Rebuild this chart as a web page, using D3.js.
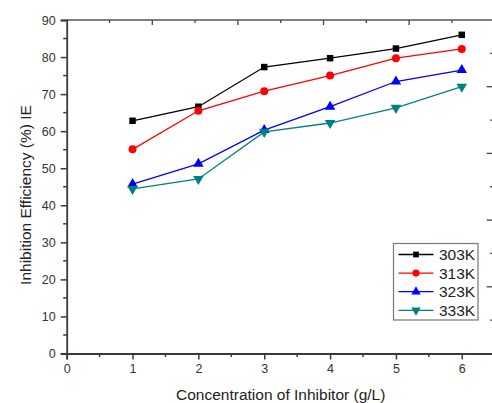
<!DOCTYPE html>
<html>
<head>
<meta charset="utf-8">
<script src="https://cdn.jsdelivr.net/npm/d3@7"></script>
<style>
  body { margin: 0; background: #fff; }
  svg { display: block; font-family: "Liberation Sans", Arial, sans-serif; }
  .axis path, .axis line { stroke: #3a3a3a; }
  .axis text { fill: #333; font-size: 12.5px; }
</style>
</head>
<body>
<svg id="chart" width="492" height="403"></svg>
<script>
/* data */
var concentration = [1, 2, 3, 4, 5, 6];
var ie303 = [62.8, 66.6, 77.3, 79.7, 82.3, 86.0];
var ie313 = [55.1, 65.5, 70.8, 75.0, 79.7, 82.2];
var ie323 = [45.7, 51.2, 60.3, 66.6, 73.4, 76.5];
var ie333 = [44.4, 47.1, 59.8, 62.2, 66.3, 72.0];
var seriesNames = ['303K', '313K', '323K', '333K'];
var xTicks = [0, 1, 2, 3, 4, 5, 6];
var yTicks = [0, 10, 20, 30, 40, 50, 60, 70, 80, 90];

var colors = ['#000000', '#ff0000', '#0000ff', '#008080'];
var symbols = [d3.symbolSquare, d3.symbolCircle, d3.symbolTriangle, d3.symbolTriangle];
var symSizes = [42, 50, 48, 48];
var allSeries = [ie303, ie313, ie323, ie333];

var plotL = 66.7, plotR = 494.7, plotT = 20, plotB = 353.5;

var svg = d3.select('#chart');

var x = d3.scaleLinear().domain([0, 6.5]).range([plotL, plotR]);
var y = d3.scaleLinear().domain([0, 90]).range([plotB, plotT]);
// the mirrored axes use their own 0-10 scale
var xTop = d3.scaleLinear().domain([0, 10]).range([plotL, plotR]);
var yRight = d3.scaleLinear().domain([0, 10]).range([plotB, plotT]);

// frame: top + right mirror axes
svg.append('line').attr('x1', plotL).attr('x2', plotR).attr('y1', plotT).attr('y2', plotT)
   .attr('stroke', '#555').attr('stroke-width', 1.3);
svg.append('line').attr('x1', plotR).attr('x2', plotR).attr('y1', plotT).attr('y2', plotB)
   .attr('stroke', '#555').attr('stroke-width', 1.3);

d3.range(1, 10).forEach(function(k) {
	var major = k % 2 == 0;
	svg.append('line')
	   .attr('x1', xTop(k)).attr('x2', xTop(k))
	   .attr('y1', plotT).attr('y2', plotT + (major ? 5 : 3))
	   .attr('stroke', '#444').attr('stroke-width', 1.3);
	svg.append('line')
	   .attr('x1', plotR).attr('x2', plotR - (major ? 8 : 4.5))
	   .attr('y1', yRight(k)).attr('y2', yRight(k))
	   .attr('stroke', '#444').attr('stroke-width', 1.3);
});

// bottom axis
var gx = svg.append('g').attr('class', 'axis')
	.attr('transform', 'translate(0,' + plotB + ')')
	.call(d3.axisBottom(x).tickValues(xTicks).tickFormat(d3.format('d')).tickSize(6).tickPadding(5));
gx.select('.domain').attr('stroke-width', 1.8);
gx.selectAll('.tick line').attr('stroke-width', 1.5);
// minor ticks
svg.append('g').selectAll('line').data(d3.range(0.5, 6.5, 1)).enter().append('line')
	.attr('x1', function(d) { return x(d); }).attr('x2', function(d) { return x(d); })
	.attr('y1', plotB).attr('y2', plotB + 3.5)
	.attr('stroke', '#3a3a3a').attr('stroke-width', 1.5);

// left axis
var gy = svg.append('g').attr('class', 'axis')
	.attr('transform', 'translate(' + plotL + ',0)')
	.call(d3.axisLeft(y).tickValues(yTicks).tickSize(6).tickPadding(5));
gy.select('.domain').attr('stroke-width', 1.8);
gy.selectAll('.tick line').attr('stroke-width', 1.5);
svg.append('g').selectAll('line').data(d3.range(5, 90, 10)).enter().append('line')
	.attr('x1', plotL).attr('x2', plotL - 3.5)
	.attr('y1', function(d) { return y(d); }).attr('y2', function(d) { return y(d); })
	.attr('stroke', '#3a3a3a').attr('stroke-width', 1.5);

// titles
svg.append('text')
	.attr('x', (plotL + plotR) / 2).attr('y', 400)
	.attr('text-anchor', 'middle')
	.style('font-size', '15.5px').style('fill', '#222')
	.text('Concentration of Inhibitor (g/L)');

svg.append('text')
	.attr('transform', 'translate(31,195) rotate(-90)')
	.attr('text-anchor', 'middle')
	.style('font-size', '15.5px').style('fill', '#222')
	.text('Inhibition Efficiency (%) IE');

// series
var line = d3.line()
	.x(function(d, i) { return x(concentration[i]); })
	.y(function(d) { return y(d); });

allSeries.forEach(function(vals, s) {
	svg.append('path')
		.datum(vals)
		.attr('d', line)
		.attr('fill', 'none')
		.attr('stroke', colors[s])
		.attr('stroke-width', 1.3);

	svg.append('g').selectAll('path').data(vals).enter().append('path')
		.attr('d', d3.symbol().type(symbols[s]).size(symSizes[s]))
		.attr('transform', function(d, i) {
			return 'translate(' + x(concentration[i]) + ',' + y(d) + ')' + (s == 3 ? ' rotate(180)' : '');
		})
		.attr('fill', colors[s]);
});

// legend
var legend = svg.append('g').attr('transform', 'translate(393.5,243.5)');
legend.append('rect')
	.attr('width', 84.5).attr('height', 76.5)
	.attr('fill', '#fff').attr('stroke', '#777').attr('stroke-width', 1.2);

seriesNames.forEach(function(name, s) {
	var ly = 11 + s * 18.6;
	var row = legend.append('g').attr('transform', 'translate(0,' + ly + ')');
	row.append('line')
		.attr('x1', 5).attr('x2', 40)
		.attr('stroke', colors[s]).attr('stroke-width', 1.3);
	row.append('path')
		.attr('d', d3.symbol().type(symbols[s]).size(symSizes[s] * 0.8))
		.attr('transform', 'translate(22.5,0)' + (s == 3 ? ' rotate(180)' : ''))
		.attr('fill', colors[s]);
	row.append('text')
		.attr('x', 45.5).attr('y', 5.5)
		.style('font-size', '15.5px').style('fill', '#222')
		.text(name);
});
</script>
</body>
</html>
